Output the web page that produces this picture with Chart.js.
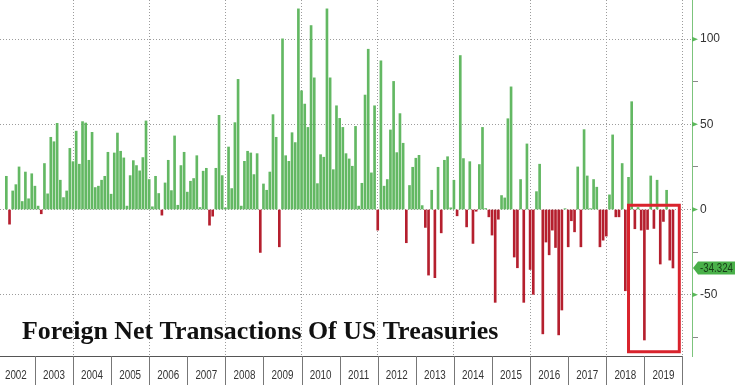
<!DOCTYPE html>
<html>
<head>
    <meta charset="utf-8">
    <title>Foreign Net Transactions Of US Treasuries</title>
    <script src="https://cdn.jsdelivr.net/npm/chart.js"></script>
    <style>
        html, body {
            margin: 0;
            padding: 0;
            background: #ffffff;
        }

        .chart-wrapper {
            width: 742px;
            height: 385px;
        }
    </style>
</head>
<body>
<div class="chart-wrapper">
    <canvas id="ticChart" width="742" height="385"></canvas>
</div>

<script>
    // Net foreign transactions in US Treasuries, $bn per month
    const firstMonth = '2002-03';
    const net2002 = [19.5, -8.6, 10.9, 14.6, 25, 4.7, 22, 6.3, 21, 13.7];
    const net2003 = [2, -2.5, 27, 9.2, 42.4, 39.8, 50.6, 17.2, 7, 10.9, 35.9, 28.1];
    const net2004 = [46, 26.6, 51.6, 50.8, 28.9, 45.3, 12.9, 13.7, 17.2, 19.5, 33.6, 9];
    const net2005 = [33.2, 44.9, 34.2, 30.3, 2, 19.9, 28.7, 25.8, 22.7, 30.5, 52, 17.6];
    const net2006 = [1.6, 19.5, 9.4, -3.3, 15.6, 28.9, 11.1, 43.2, 2.5, 25.8, 33.6, 10.2];
    const net2007 = [16.6, 18.2, 31.6, 1.2, 22.5, 24.2, -9.2, -3.9, 24.2, 55.3, 19.9, 1];
    const net2008 = [36.7, 12.3, 51, 76.4, 2, 28.3, 34.2, 33.2, 20.5, 32.8, -25.2, 15];
    const net2009 = [11.3, 22, 55.7, 42.4, -21.9, 100.2, 31.6, 28.3, 45.1, 39.3, 117.8, 69.7];
    const net2010 = [61.9, 48.2, 108, 77.3, 15.2, 32.2, 30.7, 117.8, 77.3, 23.4, 60.9, 53.5];
    const net2011 = [48.2, 32.8, 29.7, 25.4, 48.8, 2, 15.4, 67.2, 94.1, 21.5, 60.9, -12.1];
    const net2012 = [87.3, 13.7, 17.6, 46.7, 75.2, 33.4, 56.3, 38.9, -19.5, 14.1, 24.8, 30.1];
    const net2013 = [31.8, 2.3, -10.5, -38.5, 11.3, -40, 24.8, -13.7, 28.9, 31, 1, 17.2];
    const net2014 = [-3.7, 90.4, 29.9, -10.2, 28.1, -19.9, -1, 26.4, 48.2, 0.6, -4.3, -15];
    const net2015 = [-54.5, -5.7, 8.2, 6.8, 53.3, 72, -27.9, -34.2, 17.6, -54.5, 38.5, -35.2];
    const net2016 = [-49.8, 10.5, 26.6, -73, -19.1, -26.6, -12.1, -22.3, -73.6, -59, 0.5, -21.9];
    const net2017 = [-6.6, -13.1, 25, -21.9, 46.9, 19.7, 0.5, 17.6, 13.1, -21.9, -18, -15.6];
    const net2018 = [8.6, 43.8, -4.3, -4.3, 27, -47.7, 18.9, 63.3, -11.3, 1.2, -12.1, -76.6];
    const net2019 = [-11.7, 19.7, -11.1, 17.2, -32, -7, 11.3, -29.7, -34.324];

    const yearLabels = ['2002', '2003', '2004', '2005', '2006', '2007', '2008', '2009', '2010',
        '2011', '2012', '2013', '2014', '2015', '2016', '2017', '2018', '2019'];
    const majorTicks = [100, 50, 0, -50];
    const chartTitle = 'Foreign Net Transactions Of US Treasuries';

    // highlighted stretch (months and $bn)
    const boxFrom = '2018-07';
    const boxTo = '2019-11';
    const boxTop = 2.5;
    const boxBottom = -83.5;

    const GREEN = '#63b863';
    const RED = '#b51f2e';
    const GRID = '#9c9c9c';
    const SANS = "'Liberation Sans', Arial, sans-serif";

    // month-end categories, Jan 2002 .. Mar 2020
    const months = [];
    for (let y = 2002; y <= 2020; y++) {
        for (let m = 1; m <= 12; m++) {
            if (y === 2020 && m > 3) break;
            months.push(y + '-' + String(m).padStart(2, '0'));
        }
    }

    const values = [].concat(net2002, net2003, net2004, net2005, net2006, net2007, net2008, net2009,
        net2010, net2011, net2012, net2013, net2014, net2015, net2016, net2017, net2018, net2019);
    const startIdx = months.indexOf(firstMonth);
    const series = months.map((m, i) => {
        const k = i - startIdx;
        return k >= 0 && k < values.length ? values[k] : null;
    });
    const lastValue = values[values.length - 1];

    // dotted verticals at the start of every even year from 2004
    function isGridMonth(i) {
        const m = months[i];
        if (!m || !m.endsWith('-12')) return false;
        return parseInt(m.slice(0, 4), 10) % 2 === 1;
    }

    // narrow-looking text: squeeze horizontally around the anchor
    function squeezedText(ctx, text, x, y, sx) {
        ctx.save();
        ctx.translate(x, y);
        ctx.scale(sx, 1);
        ctx.fillText(text, 0, 0);
        ctx.restore();
    }

    const decor = {
        id: 'decor',
        afterDatasetsDraw(chart) {
            const { ctx, scales: { x, y } } = chart;
            const x0 = x.getPixelForValue(months.indexOf(boxFrom));
            const x1 = x.getPixelForValue(months.indexOf(boxTo));
            const y0 = y.getPixelForValue(boxTop);
            const y1 = y.getPixelForValue(boxBottom);
            ctx.save();
            ctx.strokeStyle = '#d9232d';
            ctx.lineWidth = 3;
            ctx.strokeRect(x0, y0, x1 - x0, y1 - y0);
            ctx.restore();
        },
        afterDraw(chart) {
            const { ctx, chartArea, scales: { x, y } } = chart;
            const step = x.getPixelForValue(1) - x.getPixelForValue(0);
            ctx.save();

            // year band under the plot
            const bandTop = chartArea.bottom;
            const bandBottom = chart.height;
            const edge = yr => x.getPixelForValue(months.indexOf(yr + '-12'));
            const firstEdge = x.getPixelForValue(0) - step;
            const lastEdge = edge(yearLabels[yearLabels.length - 1]);
            ctx.strokeStyle = '#555';
            ctx.lineWidth = 1;
            ctx.beginPath();
            ctx.moveTo(0, bandTop + 0.5);
            ctx.lineTo(lastEdge, bandTop + 0.5);
            ctx.stroke();
            ctx.font = '12px ' + SANS;
            ctx.fillStyle = '#333';
            ctx.textAlign = 'center';
            ctx.textBaseline = 'middle';
            let prev = firstEdge;
            yearLabels.forEach(yr => {
                const e = edge(yr);
                ctx.strokeStyle = '#777';
                ctx.beginPath();
                ctx.moveTo(Math.round(e) + 0.5, bandTop);
                ctx.lineTo(Math.round(e) + 0.5, bandBottom);
                ctx.stroke();
                squeezedText(ctx, yr, (prev + e) / 2, bandTop + 20, 0.82);
                prev = e;
            });

            // arrow heads on the labelled ticks
            ctx.fillStyle = '#5cb85c';
            majorTicks.forEach(v => {
                const py = y.getPixelForValue(v);
                ctx.beginPath();
                ctx.moveTo(chartArea.right, py - 2.5);
                ctx.lineTo(chartArea.right + 6, py);
                ctx.lineTo(chartArea.right, py + 2.5);
                ctx.closePath();
                ctx.fill();
            });

            // last value flag
            const ly = y.getPixelForValue(lastValue);
            const fx = chartArea.right + 1;
            ctx.fillStyle = '#49b049';
            ctx.beginPath();
            ctx.moveTo(fx, ly);
            ctx.lineTo(fx + 5, ly - 6.5);
            ctx.lineTo(fx + 42, ly - 6.5);
            ctx.lineTo(fx + 42, ly + 6.5);
            ctx.lineTo(fx + 5, ly + 6.5);
            ctx.closePath();
            ctx.fill();
            ctx.fillStyle = '#173d17';
            ctx.font = '12px ' + SANS;
            ctx.textAlign = 'left';
            const label = lastValue.toFixed(3);
            const sx = Math.min(1, 33 / ctx.measureText(label).width);
            squeezedText(ctx, label, fx + 7, ly + 0.5, sx);

            // title
            ctx.fillStyle = '#111';
            ctx.textAlign = 'left';
            ctx.textBaseline = 'alphabetic';
            ctx.font = "bold 24px 'Liberation Serif', 'Times New Roman', serif";
            const size = 24 * 476 / ctx.measureText(chartTitle).width;
            ctx.font = "bold " + size.toFixed(1) + "px 'Liberation Serif', 'Times New Roman', serif";
            ctx.fillText(chartTitle, 22, 339);

            ctx.restore();
        }
    };

    new Chart(document.getElementById('ticChart').getContext('2d'), {
        type: 'bar',
        data: {
            labels: months,
            datasets: [{
                data: series,
                backgroundColor: c => (c.raw >= 0 ? GREEN : RED),
                borderWidth: 0,
                barThickness: 2
            }]
        },
        options: {
            responsive: false,
            animation: false,
            devicePixelRatio: 1,
            layout: { padding: 0 },
            plugins: {
                legend: { display: false },
                tooltip: { enabled: false }
            },
            scales: {
                x: {
                    offset: false,
                    grid: {
                        offset: false,
                        drawTicks: false,
                        color: c => (isGridMonth(c.index) ? GRID : 'transparent')
                    },
                    border: { display: false, dash: [1, 2] },
                    ticks: { display: false, autoSkip: false },
                    afterFit: s => {
                        s.height = 29;
                        s.paddingLeft = 0;
                        s.paddingRight = 0;
                    }
                },
                y: {
                    position: 'right',
                    min: -86,
                    max: 123,
                    grid: {
                        color: c => (c.tick && c.tick.value % 50 === 0 ? GRID : 'transparent'),
                        tickColor: c => (c.tick && c.tick.value % 50 === 0 ? 'transparent' : '#8a8a8a'),
                        tickLength: 6
                    },
                    border: { display: true, color: '#7cc47c', dash: [1, 2] },
                    ticks: {
                        stepSize: 25,
                        includeBounds: false,
                        padding: 2,
                        color: '#333',
                        font: { family: SANS, size: 12 },
                        callback: v => (v % 50 === 0 ? String(v) : '')
                    },
                    afterFit: s => {
                        s.width = 50;
                        s.paddingTop = 0;
                        s.paddingBottom = 0;
                    }
                }
            }
        },
        plugins: [decor]
    });
</script>
</body>
</html>
